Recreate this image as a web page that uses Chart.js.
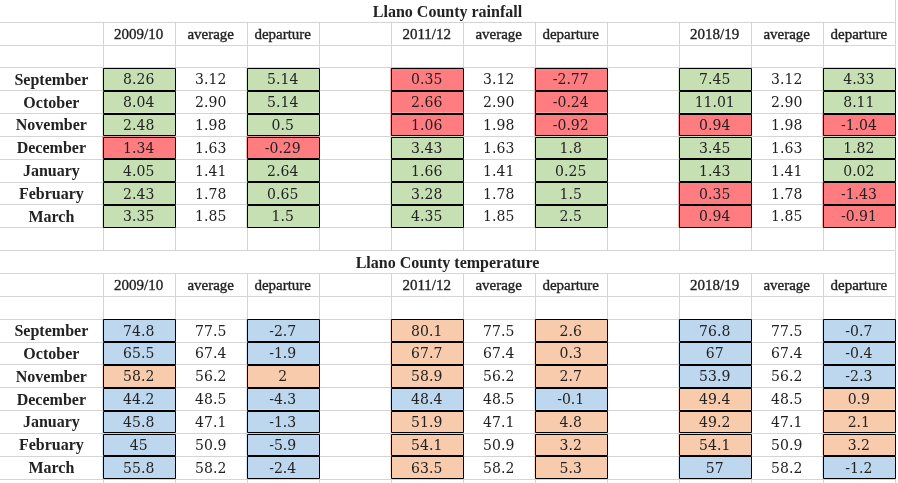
<!DOCTYPE html>
<html lang="en">
<head>
<meta charset="UTF-8" />
<title>Llano County rainfall and temperature</title>
<style>
  body { margin: 0; background: #fff; }
  canvas { display: block; }
</style>
</head>
<body>
<canvas id="sheet" width="898" height="483"></canvas>
<script src="https://cdn.jsdelivr.net/npm/chart.js@4.4.3"></script>
<script>
  // data, read from the sheet
  const months = ['September', 'October', 'November', 'December', 'January', 'February', 'March'];
  const seasons = ['2009/10', '2011/12', '2018/19'];
  const headers = ['average', 'departure'];

  const rainAvg = [3.12, 2.90, 1.98, 1.63, 1.41, 1.78, 1.85];
  const rain0910 = [8.26, 8.04, 2.48, 1.34, 4.05, 2.43, 3.35];
  const rainDep0910 = [5.14, 5.14, 0.5, -0.29, 2.64, 0.65, 1.5];
  const rain1112 = [0.35, 2.66, 1.06, 3.43, 1.66, 3.28, 4.35];
  const rainDep1112 = [-2.77, -0.24, -0.92, 1.8, 0.25, 1.5, 2.5];
  const rain1819 = [7.45, 11.01, 0.94, 3.45, 1.43, 0.35, 0.94];
  const rainDep1819 = [4.33, 8.11, -1.04, 1.82, 0.02, -1.43, -0.91];

  const tempAvg = [77.5, 67.4, 56.2, 48.5, 47.1, 50.9, 58.2];
  const temp0910 = [74.8, 65.5, 58.2, 44.2, 45.8, 45, 55.8];
  const tempDep0910 = [-2.7, -1.9, 2, -4.3, -1.3, -5.9, -2.4];
  const temp1112 = [80.1, 67.7, 58.9, 48.4, 51.9, 54.1, 63.5];
  const tempDep1112 = [2.6, 0.3, 2.7, -0.1, 4.8, 3.2, 5.3];
  const temp1819 = [76.8, 67, 53.9, 49.4, 49.2, 54.1, 57];
  const tempDep1819 = [-0.7, -0.4, -2.3, 0.9, 2.1, 3.2, -1.2];

  // sheet layout
  const COL_W = [102.7, 72, 72, 72, 72, 72, 72, 72, 72, 72, 72, 72.3];
  const colEdges = COL_W.reduce((a, w) => (a.push(a[a.length - 1] + w), a), [0]);
  const LAST_ROW = 21;
  const GRID = '#d4d4d4';
  const TEXT = '#222';
  const FONT_LABEL = 'bold 16px "Liberation Serif"';
  const FONT_HEAD = '15px "Liberation Serif"';
  const FONT_TITLE = 'bold 16px "Liberation Serif"';
  const FONT_VALUE = '14px "DejaVu Serif"';

  const sections = [
    { title: 'Llano County rainfall', row: 0, avg: rainAvg, fmtAvg: v => v.toFixed(2),
      cols: [[rain0910, rainDep0910], [rain1112, rainDep1112], [rain1819, rainDep1819]],
      up: '#c6e0b4', down: '#ff7c80' },
    { title: 'Llano County temperature', row: 11, avg: tempAvg, fmtAvg: v => String(v),
      cols: [[temp0910, tempDep0910], [temp1112, tempDep1112], [temp1819, tempDep1819]],
      up: '#f8cbad', down: '#bdd7ee' }
  ];
  const blockCols = [1, 5, 9];
  const titleRows = sections.map(s => s.row);

  // coloured cells become floating horizontal bars, texts are collected for the plugin
  const datasets = [];
  const texts = [];
  sections.forEach(s => {
    texts.push({ c0: 0, c1: 12, row: s.row, str: s.title, font: FONT_TITLE, dy: 2.5 });
    months.forEach((m, i) => texts.push({ c0: 0, c1: 1, row: s.row + 3 + i, str: m, font: FONT_LABEL }));
    s.cols.forEach(([vals, deps], b) => {
      const c = blockCols[b];
      texts.push({ c0: c, c1: c + 1, row: s.row + 1, str: seasons[b], font: FONT_HEAD, heavy: true });
      texts.push({ c0: c + 1, c1: c + 2, row: s.row + 1, str: headers[0], font: FONT_HEAD, heavy: true });
      texts.push({ c0: c + 2, c1: c + 3, row: s.row + 1, str: headers[1], font: FONT_HEAD, heavy: true });
      const colors = deps.map(d => d < 0 ? s.down : s.up);
      [[c, vals], [c + 2, deps]].forEach(([col, arr]) => {
        datasets.push({
          data: arr.map((v, i) => ({ y: s.row + 3 + i + 0.5, x: [colEdges[col], colEdges[col + 1]] })),
          backgroundColor: colors,
          borderWidth: 0
        });
        arr.forEach((v, i) => texts.push({ c0: col, c1: col + 1, row: s.row + 3 + i, str: String(v), font: FONT_VALUE }));
      });
      s.avg.forEach((v, i) => texts.push({ c0: c + 1, c1: c + 2, row: s.row + 3 + i, str: s.fmtAvg(v), font: FONT_VALUE }));
    });
  });

  const crisp = v => Math.round(v) + 0.5;

  const sheetPlugin = {
    id: 'sheet',
    beforeDatasetsDraw(chart) {
      const { ctx, scales: { x, y } } = chart;
      ctx.save();
      ctx.fillStyle = '#fff';
      ctx.fillRect(0, 0, chart.width, chart.height);
      ctx.strokeStyle = GRID;
      ctx.lineWidth = 1;
      ctx.beginPath();
      const right = crisp(x.getPixelForValue(colEdges[12]));
      for (let r = 1; r <= LAST_ROW + 1; r++) {
        const py = crisp(y.getPixelForValue(r));
        ctx.moveTo(0, py);
        ctx.lineTo(right, py);
      }
      for (let r = 0; r <= LAST_ROW; r++) {
        const top = y.getPixelForValue(r), bottom = y.getPixelForValue(r + 1);
        const first = titleRows.includes(r) ? 12 : 1;
        for (let c = first; c <= 12; c++) {
          const px = crisp(x.getPixelForValue(colEdges[c]));
          ctx.moveTo(px, top);
          ctx.lineTo(px, bottom);
        }
      }
      ctx.stroke();
      ctx.restore();
    },
    afterDatasetsDraw(chart) {
      const { ctx, scales: { x, y } } = chart;
      ctx.save();
      // black cell borders round every bar
      ctx.strokeStyle = '#000';
      ctx.lineWidth = 1;
      ctx.beginPath();
      chart.data.datasets.forEach((ds, di) => {
        chart.getDatasetMeta(di).data.forEach(bar => {
          const { x: x1, base: x0, y: cy, height } = bar.getProps(['x', 'base', 'y', 'height'], true);
          const l = crisp(Math.min(x0, x1)), r = crisp(Math.max(x0, x1));
          const t = crisp(cy - height / 2), b = crisp(cy + height / 2);
          ctx.rect(l, t, r - l, b - t);
        });
      });
      ctx.stroke();
      // cell texts
      ctx.fillStyle = TEXT;
      ctx.strokeStyle = TEXT;
      ctx.lineWidth = 0.35;
      ctx.textAlign = 'center';
      ctx.textBaseline = 'middle';
      texts.forEach(t => {
        ctx.font = t.font;
        const cx = (x.getPixelForValue(colEdges[t.c0]) + x.getPixelForValue(colEdges[t.c1])) / 2;
        const cy = y.getPixelForValue(t.row + 0.5) + (t.dy || 1.8);
        ctx.fillText(t.str, cx, cy);
        if (t.heavy) ctx.strokeText(t.str, cx, cy);
      });
      ctx.restore();
    }
  };

  new Chart(document.getElementById('sheet'), {
    type: 'bar',
    data: { datasets },
    options: {
      indexAxis: 'y',
      responsive: false,
      animation: false,
      grouped: false,
      barPercentage: 1,
      categoryPercentage: 1,
      layout: { padding: 0 },
      plugins: { legend: { display: false }, tooltip: { enabled: false } },
      scales: {
        x: { type: 'linear', min: 0, max: 898, display: false },
        y: { type: 'linear', offset: false, min: 0.05, max: 21.19, reverse: true, display: false, ticks: { stepSize: 1 } }
      }
    },
    plugins: [sheetPlugin]
  });
</script>
</body>
</html>
